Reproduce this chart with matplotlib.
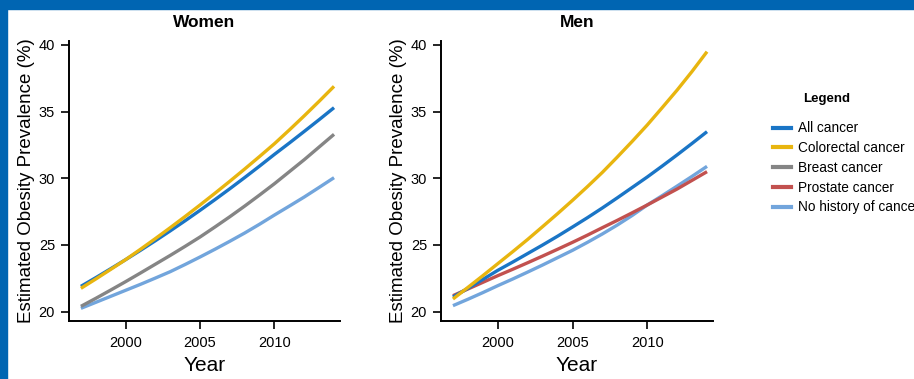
import matplotlib
matplotlib.use("Agg")
import matplotlib.pyplot as plt
from matplotlib.lines import Line2D
from matplotlib.patches import Rectangle

plt.rcParams['font.family'] = ['Liberation Sans', 'DejaVu Sans']

years = list(range(1997, 2015))

# Women
women_all = [21.9, 22.55, 23.22, 23.9, 24.6, 25.32, 26.06, 26.82, 27.6,
             28.4, 29.22, 30.06, 30.92, 31.8, 32.65, 33.52, 34.4, 35.3]
women_colorectal = [21.75, 22.45, 23.17, 23.9, 24.68, 25.48, 26.3, 27.14, 28.0,
                    28.88, 29.78, 30.7, 31.64, 32.6, 33.63, 34.69, 35.78, 36.9]
women_breast = [20.4, 21.0, 21.62, 22.25, 22.9, 23.56, 24.22, 24.9, 25.6,
                26.35, 27.12, 27.92, 28.75, 29.6, 30.5, 31.4, 32.35, 33.3]
women_none = [20.25, 20.7, 21.15, 21.6, 22.05, 22.52, 23.0, 23.54, 24.1,
              24.68, 25.28, 25.9, 26.56, 27.25, 27.92, 28.6, 29.32, 30.05]

# Men
men_all = [21.1, 21.75, 22.42, 23.1, 23.72, 24.36, 25.0, 25.66, 26.35,
           27.05, 27.78, 28.54, 29.32, 30.1, 30.92, 31.76, 32.62, 33.5]
men_colorectal = [20.95, 21.82, 22.7, 23.6, 24.5, 25.42, 26.38, 27.35, 28.35,
                  29.38, 30.45, 31.6, 32.78, 34.0, 35.3, 36.62, 38.02, 39.5]
men_prostate = [21.2, 21.7, 22.2, 22.7, 23.18, 23.67, 24.17, 24.68, 25.2,
                25.74, 26.3, 26.85, 27.42, 28.0, 28.6, 29.2, 29.85, 30.5]
men_none = [20.45, 20.93, 21.43, 21.95, 22.45, 22.97, 23.5, 24.05, 24.6,
            25.2, 25.83, 26.5, 27.22, 28.0, 28.7, 29.42, 30.15, 30.9]

labels = ["All cancer", "Colorectal cancer", "Breast cancer",
          "Prostate cancer", "No history of cancer"]
colors = {"All cancer": "#1a75c6", "Colorectal cancer": "#e8b50f",
          "Breast cancer": "#858585", "Prostate cancer": "#c2514f",
          "No history of cancer": "#72a5dc"}

xticks = [2000, 2005, 2010]
yticks = [20, 25, 30, 35, 40]

fig = plt.figure(figsize=(9.14, 3.79), dpi=100)
fig.patch.set_facecolor("white")

# blue frame (top and left bands)
fig.add_artist(Rectangle((0, 1 - 9 / 379), 1, 9 / 379, transform=fig.transFigure,
                         color="#0065b2", zorder=0))
fig.add_artist(Rectangle((0, 0), 7 / 914, 1, transform=fig.transFigure,
                         color="#0065b2", zorder=0))

ax1 = fig.add_axes([69 / 914, 58 / 379, 271 / 914, 280 / 379])
ax2 = fig.add_axes([441 / 914, 58 / 379, 272 / 914, 280 / 379])

panels = [
    (ax1, "Women", [("No history of cancer", women_none), ("Breast cancer", women_breast),
                    ("All cancer", women_all), ("Colorectal cancer", women_colorectal)]),
    (ax2, "Men", [("No history of cancer", men_none), ("Prostate cancer", men_prostate),
                  ("All cancer", men_all), ("Colorectal cancer", men_colorectal)]),
]

for ax, title, series in panels:
    for name, vals in series:
        ax.plot(years, vals, color=colors[name], lw=2.4, solid_capstyle="butt")
    ax.set_xlim(1996.2, 2014.4)
    ax.set_ylim(19.3, 40.3)
    ax.set_xticks(xticks)
    ax.set_yticks(yticks)
    for s in ["top", "right"]:
        ax.spines[s].set_visible(False)
    for s in ["left", "bottom"]:
        ax.spines[s].set_linewidth(1.4)
    ax.tick_params(axis="x", direction="out", length=6, width=1.2, labelsize=10.5, pad=5)
    ax.tick_params(axis="y", direction="out", length=6, width=1.2, labelsize=10.5, pad=4)
    ax.set_title(title, fontsize=12.5, fontweight="bold", pad=10)
    ax.set_xlabel("Year", fontsize=15, labelpad=4)
    ax.set_ylabel("Estimated Obesity Prevalence (%)", fontsize=13.5, labelpad=3)

# legend sits at the right edge, last label runs off the figure as in the source
handles = [Line2D([], [], color=colors[l], lw=3) for l in labels]
fig.text(827 / 914, 1 - 99 / 379, "Legend", ha="center", va="center",
         fontsize=9.5, fontweight="bold")
fig.legend(handles, labels, loc="upper left", bbox_to_anchor=(768 / 914, 1 - 116 / 379),
           frameon=False, fontsize=9.8, handlelength=1.3, handletextpad=0.5,
           labelspacing=0.42, borderaxespad=0)

fig.savefig("out.png", dpi=100)
